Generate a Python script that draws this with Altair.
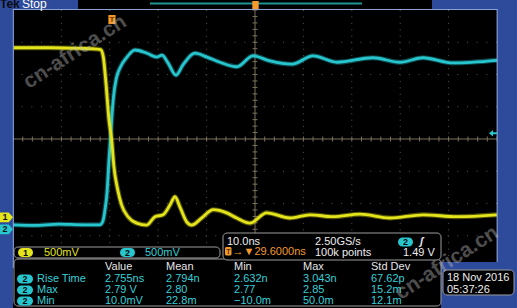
import altair as alt
import pandas as pd

# Channel 1 (yellow) : time in ns (relative to trigger), volts
t_ch1 = [-20.45, -12.81, -6.61, -3.10, -2.33, -1.80, -1.24, -0.62, -0.06, 0.41, 1.18, 2.00,
         3.31, 5.10, 7.17, 8.88, 10.54, 11.98, 13.02, 14.05, 15.43, 16.47, 18.53, 20.93,
         23.70, 25.77, 28.51, 31.96, 36.78, 40.91, 45.66, 51.24, 57.44, 64.26, 71.28, 79.55]
v_ch1 = [2.63, 2.63, 2.62, 2.61, 2.60, 2.49, 2.08, 1.51, 1.20, 0.78, 0.43, 0.19,
         0.01, -0.09, -0.12, 0.01, 0.04, 0.19, 0.32, 0.16, -0.07, -0.12, -0.01, 0.12,
         0.07, -0.01, -0.09, 0.07, -0.01, 0.04, 0.01, 0.05, -0.01, 0.04, 0.01, 0.04]
# Channel 2 (cyan)
t_ch2 = [-20.45, -16.0, -11.0, -6.0, -3.5, -2.5, -1.86, -1.45, -1.03, -0.62, -0.31, 0.0,
         0.31, 0.93, 1.65, 3.10, 4.75, 7.23, 9.30, 10.33, 11.57, 13.22, 14.67, 17.15,
         19.63, 22.31, 25.83, 29.13, 32.64, 37.19, 41.53, 46.49, 53.93, 59.50, 64.26,
         70.45, 79.55]
v_ch2 = [0.07, 0.06, 0.08, 0.07, 0.07, 0.07, 0.13, 0.30, 0.56, 1.07, 1.40, 1.77,
         2.05, 2.35, 2.50, 2.67, 2.78, 2.73, 2.67, 2.70, 2.58, 2.39, 2.55, 2.73,
         2.67, 2.59, 2.52, 2.69, 2.61, 2.56, 2.69, 2.59, 2.66, 2.59, 2.66,
         2.58, 2.62]

volts_per_div = [0.5, 0.5]
offset_div = [-2.43, -2.80]
time_per_div = 10.0
t_left = -20.45
trigger_level = 1.49
channel_labels = ["1", "2"]
scale_labels = ["500mV", "500mV"]

horiz_labels = ["10.0ns", "→▼29.6000ns", "2.50GS/s", "100k points", "1.49 V"]
table_headers = ["Value", "Mean", "Min", "Max", "Std Dev"]
row_labels = ["Rise Time", "Max", "Min"]
row_values = [["2.755ns", "2.794n", "2.632n", "3.043n", "67.62p"],
              ["2.79 V", "2.80", "2.77", "2.85", "15.2m"],
              ["10.0mV", "22.8m", "−10.0m", "50.0m", "12.1m"]]
date_lines = ["18 Nov 2016", "05:37:26"]
watermark = "cn-africa.cn"

# ---------------- style / layout ----------------
PADL, PADT = 13, 10
W, H = 484, 258
FONT = "Liberation Sans, Arial, sans-serif"
BLUE = "#2d4a9b"
YEL = "#e4e41c"
CYAN = "#27c6cf"
TCYAN = "#35cfd8"
ORANGE = "#f39a2a"
GRID = "#5a5444"
CENTER = "#7d735c"
BORDER = "#8aa2d4"
WHITE = "#eeeeee"
PSTROKE = "#9c9c9c"


def px(v):
    return v - PADL


def py(v):
    return v - PADT


def rects(items, **kw):
    df = pd.DataFrame([{"x": px(a), "y": py(b), "x2": px(c), "y2": py(d)} for a, b, c, d in items])
    return alt.Chart(df).mark_rect(**kw).encode(
        x=alt.X("x:Q", scale=None, axis=None), x2="x2:Q",
        y=alt.Y("y:Q", scale=None, axis=None), y2="y2:Q")


def texts(items, color, size=11, weight="normal", align="left", baseline="middle", **kw):
    df = pd.DataFrame([{"x": px(a), "y": py(b), "t": s} for a, b, s in items])
    return alt.Chart(df).mark_text(color=color, fontSize=size, fontWeight=weight, align=align,
                                   baseline=baseline, font=FONT, **kw).encode(
        x=alt.X("x:Q", scale=None, axis=None),
        y=alt.Y("y:Q", scale=None, axis=None),
        text="t:N")


xs = alt.Scale(domain=[t_left, t_left + 10 * time_per_div], nice=False, zero=False)
ys = alt.Scale(domain=[-4, 4], nice=False, zero=False)

# ---------------- graticule ----------------
center_t = t_left + 5 * time_per_div
vgrid = pd.DataFrame({"t": [t_left + k * time_per_div for k in range(1, 10) if k != 5]})
hgrid = pd.DataFrame({"pos": [k for k in range(-3, 4) if k != 0]})
g_v = alt.Chart(vgrid).mark_rule(color=GRID, strokeWidth=1, strokeDash=[1, 5.45]).encode(
    x=alt.X("t:Q", scale=xs, axis=None))
g_h = alt.Chart(hgrid).mark_rule(color=GRID, strokeWidth=1, strokeDash=[1, 8.68]).encode(
    y=alt.Y("pos:Q", scale=ys, axis=None))
c_v = alt.Chart(pd.DataFrame({"t": [center_t]})).mark_rule(color=CENTER, strokeWidth=1).encode(
    x=alt.X("t:Q", scale=xs, axis=None))
c_h = alt.Chart(pd.DataFrame({"pos": [0]})).mark_rule(color=CENTER, strokeWidth=1).encode(
    y=alt.Y("pos:Q", scale=ys, axis=None))
tick_t = pd.DataFrame({"t": [t_left + 2 * k for k in range(51)], "pos": 0})
tick_p = pd.DataFrame({"pos": [-4 + 0.2 * k for k in range(41)], "t": center_t})
ticks_h = alt.Chart(tick_t).mark_tick(orient="vertical", size=5, thickness=1, color=CENTER, opacity=1).encode(
    x=alt.X("t:Q", scale=xs, axis=None), y=alt.Y("pos:Q", scale=ys, axis=None))
ticks_v = alt.Chart(tick_p).mark_tick(orient="horizontal", size=5, thickness=1, color=CENTER, opacity=1).encode(
    x=alt.X("t:Q", scale=xs, axis=None), y=alt.Y("pos:Q", scale=ys, axis=None))


# ---------------- traces ----------------
def trace(t, v, idx, color):
    df = pd.DataFrame({"t": t, "v": v})
    base = alt.Chart(df).transform_calculate(
        pos=f"datum.v / {volts_per_div[idx]} + ({offset_div[idx]})")
    enc = dict(x=alt.X("t:Q", scale=xs, axis=None), y=alt.Y("pos:Q", scale=ys, axis=None))
    halo = base.mark_line(color=color, strokeWidth=5, opacity=0.35, interpolate="monotone").encode(**enc)
    core = base.mark_line(color=color, strokeWidth=2.8, interpolate="monotone").encode(**enc)
    return [halo, core]


tr2 = trace(t_ch2, v_ch2, 1, CYAN)
tr1 = trace(t_ch1, v_ch1, 0, YEL)

# ---------------- markers ----------------
PENT = "M-1,-0.75 L0.35,-0.75 L1,0 L0.35,0.75 L-1,0.75 Z"
mk = pd.DataFrame({"pos": offset_div, "lab": channel_labels, "c": [YEL, CYAN]})
ch_mk = alt.Chart(mk).mark_point(shape=PENT, size=169, filled=True, opacity=1, strokeWidth=0).encode(
    x=alt.value(px(6.5)), y=alt.Y("pos:Q", scale=ys, axis=None), color=alt.Color("c:N", scale=None))
ch_mk_t = alt.Chart(mk).mark_text(font=FONT, fontSize=9, fontWeight="bold", color="#111111").encode(
    x=alt.value(px(5)), y=alt.Y("pos:Q", scale=ys, axis=None), text="lab:N")

ARROW = "M-1,0 L0,-0.8 L0,-0.25 L1,-0.25 L1,0.25 L0,0.25 L0,0.8 Z"
trig = pd.DataFrame({"pos": [trigger_level / volts_per_div[1] + offset_div[1]]})
trig_mk = alt.Chart(trig).mark_point(shape=ARROW, size=64, filled=True, opacity=1, strokeWidth=0, color=CYAN).encode(
    x=alt.value(px(493)), y=alt.Y("pos:Q", scale=ys, axis=None))

TBOX = "M-0.8,-1 L0.8,-1 L0.8,1 L-0.8,1 Z"
tpos = pd.DataFrame({"t": [0.0], "lab": ["T"]})
t_mk = alt.Chart(tpos).mark_point(shape=TBOX, size=81, filled=True, opacity=1, strokeWidth=0, color=ORANGE).encode(
    x=alt.X("t:Q", scale=xs, axis=None), y=alt.value(py(19.5)))
t_mk_t = alt.Chart(tpos).mark_text(font=FONT, fontSize=8, fontWeight="bold", color="#6a3500").encode(
    x=alt.X("t:Q", scale=xs, axis=None), y=alt.value(py(19.5)), text="lab:N")

top_mk = alt.Chart(pd.DataFrame({"lab": ["T"]})).mark_point(
    shape=TBOX, size=64, filled=True, opacity=1, strokeWidth=0, color=ORANGE).encode(
    x=alt.value(px(255.5)), y=alt.value(py(5)))

# ---------------- chrome ----------------
blue = rects([(0, 0, 13, 308), (0, 0, 78, 9), (432, 0, 517, 9), (497, 0, 517, 308), (441, 262, 517, 308)],
             color=BLUE)
border = rects([(13, 9, 497, 10.1), (12.8, 9, 13.9, 268), (496.6, 9, 497.7, 262)], color=BORDER)
recbar = rects([(150, 2.5, 362, 4.5)], color="#1e9494")

panels = rects([(14, 259, 441, 306), (14, 247, 220, 258), (223, 233, 441, 260), (443, 270, 514, 295)],
               color="#000000", stroke=PSTROKE, strokeWidth=1, cornerRadius=4)

pills_y = rects([(18, 248, 33, 257)], color=YEL, cornerRadius=4.5)
pills_c = rects([(120, 248, 135, 257), (398, 237.5, 413, 246.5),
                 (17, 274.5, 33, 283.5), (17, 285.5, 33, 294.5), (17, 296.5, 33, 305.5)],
                color=CYAN, cornerRadius=4.5)
pill_o = rects([(225, 247, 231.5, 255.5)], color=ORANGE, cornerRadius=1.5)
pill_txt = texts([(25.5, 252.7, channel_labels[0]), (127.5, 252.7, channel_labels[1]),
                  (405.5, 242.2, channel_labels[1]),
                  (25, 279.2, "2"), (25, 290.2, "2"), (25, 301.2, "2")],
                 "#0a0a0a", size=9, weight="bold", align="center")
pill_o_txt = texts([(228.3, 251.5, "T")], "#5a2a00", size=7, weight="bold", align="center")

tek = texts([(0, 7.5, "Tek")], "#0a0a14", size=12, weight="bold", baseline="alphabetic")
stop = texts([(22, 7.5, "Stop")], "#ffffff", size=12, baseline="alphabetic")

scale_y = texts([(44, 252.7, scale_labels[0])], YEL, size=11)
scale_c = texts([(145, 252.7, scale_labels[1])], TCYAN, size=11)

horiz_w = texts([(227, 241.5, horiz_labels[0]), (315, 241.5, horiz_labels[2]),
                 (315, 252.5, horiz_labels[3]), (403, 252.5, horiz_labels[4])], WHITE, size=11)
horiz_o = texts([(232.5, 251.5, horiz_labels[1])], ORANGE, size=11)
edge = texts([(420, 241.5, "ʃ")], WHITE, size=10, fontStyle="italic", weight="bold")

col_x = [105, 166, 234, 303, 371]
row_y = [279.2, 290.2, 301.2]
hdr = texts([(x, 266.5, h) for x, h in zip(col_x, table_headers)], "#e6e6e6", size=11)
rows_lab = texts([(37, y, l) for y, l in zip(row_y, row_labels)], TCYAN, size=11)
rows_val = texts([(x, y, v) for y, vals in zip(row_y, row_values) for x, v in zip(col_x, vals)],
                 TCYAN, size=11)
date = texts([(447, 277.5, date_lines[0]), (447, 289.5, date_lines[1])], WHITE, size=11)

wm = texts([(75, 52, watermark), (447, 263, watermark)], "#c0c0c0", size=21, weight="bold",
           align="center", angle=327, opacity=0.4)

layers = ([g_v, g_h, c_v, c_h, ticks_h, ticks_v] + tr2 + tr1 +
          [t_mk, t_mk_t, blue, recbar, top_mk, border, ch_mk, ch_mk_t, trig_mk,
           panels, pills_y, pills_c, pill_o, pill_txt, pill_o_txt, tek, stop,
           scale_y, scale_c, horiz_w, horiz_o, edge, hdr, rows_lab, rows_val, date, wm])

chart = alt.layer(*layers).properties(
    width=W, height=H,
    autosize=alt.AutoSizeParams(type="none"),
    padding={"left": PADL, "top": PADT, "right": 517 - PADL - W, "bottom": 308 - PADT - H},
    background="#000000",
).resolve_scale(x="independent", y="independent").configure_view(strokeWidth=0, fill="#000000")

chart.save("out.html", embed_options={"renderer": "svg", "actions": False})
